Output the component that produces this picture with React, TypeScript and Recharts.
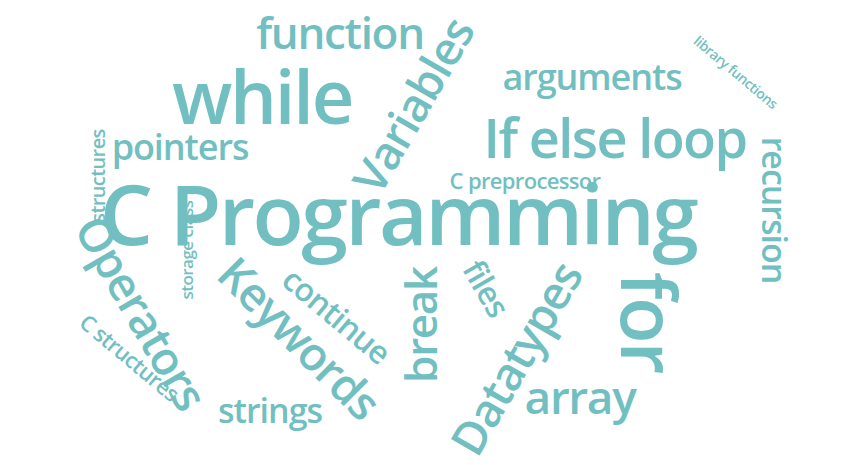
import { ScatterChart, Scatter, XAxis, YAxis } from 'recharts';

// word cloud: each word sits at a (x, y) point in a 862x465 space
const words = [
    'C Programming', 'while', 'function', 'Variables', 'arguments', 'If else loop',
    'library functions', 'pointers', 'structures', 'storage class', 'C preprocessor',
    'recursion', 'Operators', 'C structures', 'Keywords', 'continue', 'break', 'files',
    'Datatypes', 'for', 'array', 'strings',
];
const xs = [398, 262, 340, 412, 592, 615, 736, 180, 97, 186, 525, 775, 142, 130, 300, 337, 420, 487, 515, 650, 580, 270];
const ys = [212, 95, 32, 105, 76, 137, 72, 146, 176, 250, 180, 210, 312, 357, 337, 315, 325, 288, 358, 322, 396, 410];
const weights = [84, 74, 44, 46, 36, 54, 14, 36, 20, 17, 22, 34, 46, 22, 46, 32, 44, 32, 46, 76, 46, 34];
const angles = [0, 0, 0, -60, 0, 0, 40, 0, -90, -90, 0, 90, 60, 40, 45, 40, -90, 60, -60, 90, 0, 0];

const data = words.map((w, i) => ({ word: w, x: xs[i], y: ys[i], size: weights[i], angle: angles[i] }));

function Word(props: any) {
    const { cx, cy, payload } = props;
    return (
        <text
            x={cx}
            y={cy}
            textAnchor="middle"
            dominantBaseline="central"
            fontFamily="'Open Sans', sans-serif"
            fontWeight={600}
            fontSize={payload.size}
            letterSpacing={-payload.size * 0.03}
            fill="#72bfc1"
            transform={`rotate(${payload.angle} ${cx} ${cy})`}
        >
            {payload.word}
        </text>
    );
}

export default function App() {
    return (
        <div style={{ position: 'fixed', left: 0, top: 0, width: 862, height: 465, background: '#fff' }}>
            <ScatterChart width={862} height={465} margin={{ top: 0, right: 0, bottom: 0, left: 0 }}>
                <XAxis type="number" dataKey="x" domain={[0, 862]} hide />
                <YAxis type="number" dataKey="y" domain={[0, 465]} reversed hide />
                <Scatter data={data} shape={<Word />} isAnimationActive={false} />
            </ScatterChart>
        </div>
    );
}
